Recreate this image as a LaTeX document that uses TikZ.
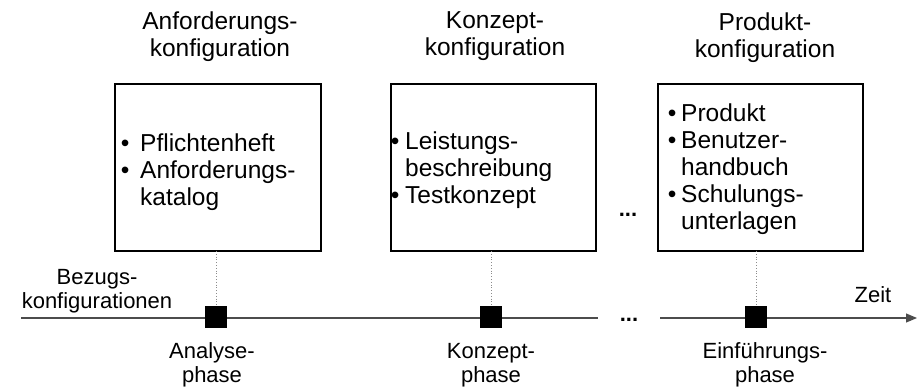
\documentclass[tikz,border=0pt]{standalone}
\usepackage{fontspec}
\setmainfont{Liberation Sans}
\usetikzlibrary{arrows.meta}

% type sizes
\newcommand{\bigtxt}{\fontsize{24.5}{27}\selectfont}
\newcommand{\smalltxt}{\fontsize{22}{23.5}\selectfont}
% bullet set in a box of given width
\newcommand{\bul}[1]{\makebox[#1][l]{\textbullet}}

\begin{document}
\begin{tikzpicture}[x=1pt, y=-1pt,
  title/.style={align=center, inner sep=0pt, anchor=base, font=\bigtxt},
  listtext/.style={inner sep=0pt, anchor=base west, font=\bigtxt},
  label/.style={align=center, inner sep=0pt, anchor=base, font=\smalltxt},
  config/.style={draw=black, line width=1.2pt, fill=white},
  milestone/.style={fill=black, draw=none, minimum size=22pt, inner sep=0pt},
  axis/.style={draw=black!70, line width=1.1pt},
  link/.style={draw=black!45, line width=0.8pt, dotted},
  gap/.style={inner sep=0pt, anchor=base, font=\smalltxt\bfseries}]

\useasboundingbox (0,0) rectangle (924,389);

% configuration boxes
\draw[config] (115,84) rectangle (321,251);
\draw[config] (391,84) rectangle (596,251);
\draw[config] (658,84) rectangle (863,251);
\coordinate (b1) at (218,251);
\coordinate (b2) at (493,251);
\coordinate (b3) at (760,251);

% headings (anchored on the baseline of their last line)
\node[title] (t1) at (220,56) {Anforderungs-\\konfiguration};
\node[title] (t2) at (495,55) {Konzept-\\konfiguration};
\node[title] (t3) at (765,57) {Produkt-\\konfiguration};

% box contents
\node[listtext] (c1) at (120.7,151) {\begin{tabular}[t]{@{}l@{}l@{}}
  \bul{19.3pt} & Pflichtenheft\\
  \bul{19.3pt} & Anforderungs-\\
  & katalog
\end{tabular}};
\node[listtext] (c2) at (390.7,149) {\begin{tabular}[t]{@{}l@{}l@{}}
  \bul{14.3pt} & Leistungs-\\
  & beschreibung\\
  \bul{14.3pt} & Testkonzept
\end{tabular}};
\node[listtext] (c3) at (667.7,121) {\begin{tabular}[t]{@{}l@{}l@{}}
  \bul{13.3pt} & Produkt\\
  \bul{13.3pt} & Benutzer-\\
  & handbuch\\
  \bul{13.3pt} & Schulungs-\\
  & unterlagen
\end{tabular}};
\node[gap] (g1) at (628,216) {...};

% time axis
\coordinate (a0) at (21,318);
\coordinate (a1) at (598,318);
\coordinate (a2) at (660,318);
\coordinate (a3) at (917,318);
\draw[axis] (a0) -- (a1);
\draw[axis, -{Triangle[length=11pt, width=9pt]}] (a2) -- (a3);
\node[gap] (g2) at (629,321) {...};

% milestones
\node[milestone] (m1) at (216,317) {};
\node[milestone] (m2) at (491,317) {};
\node[milestone] (m3) at (756,317) {};
\draw[link] (m1.north |- b1) -- (m1.north);
\draw[link] (m2.north |- b2) -- (m2.north);
\draw[link] (m3.north |- b3) -- (m3.north);

% axis labels (anchored on the baseline of their last line)
\node[label] (l0) at (97,308) {Bezugs-\\konfigurationen};
\node[label] (l1) at (212,382) {Analyse-\\phase};
\node[label] (l2) at (491,382) {Konzept-\\phase};
\node[label] (l3) at (765,382) {Einführungs-\\phase};
\node[label] (lz) at (873,302) {Zeit};

\end{tikzpicture}
\end{document}
